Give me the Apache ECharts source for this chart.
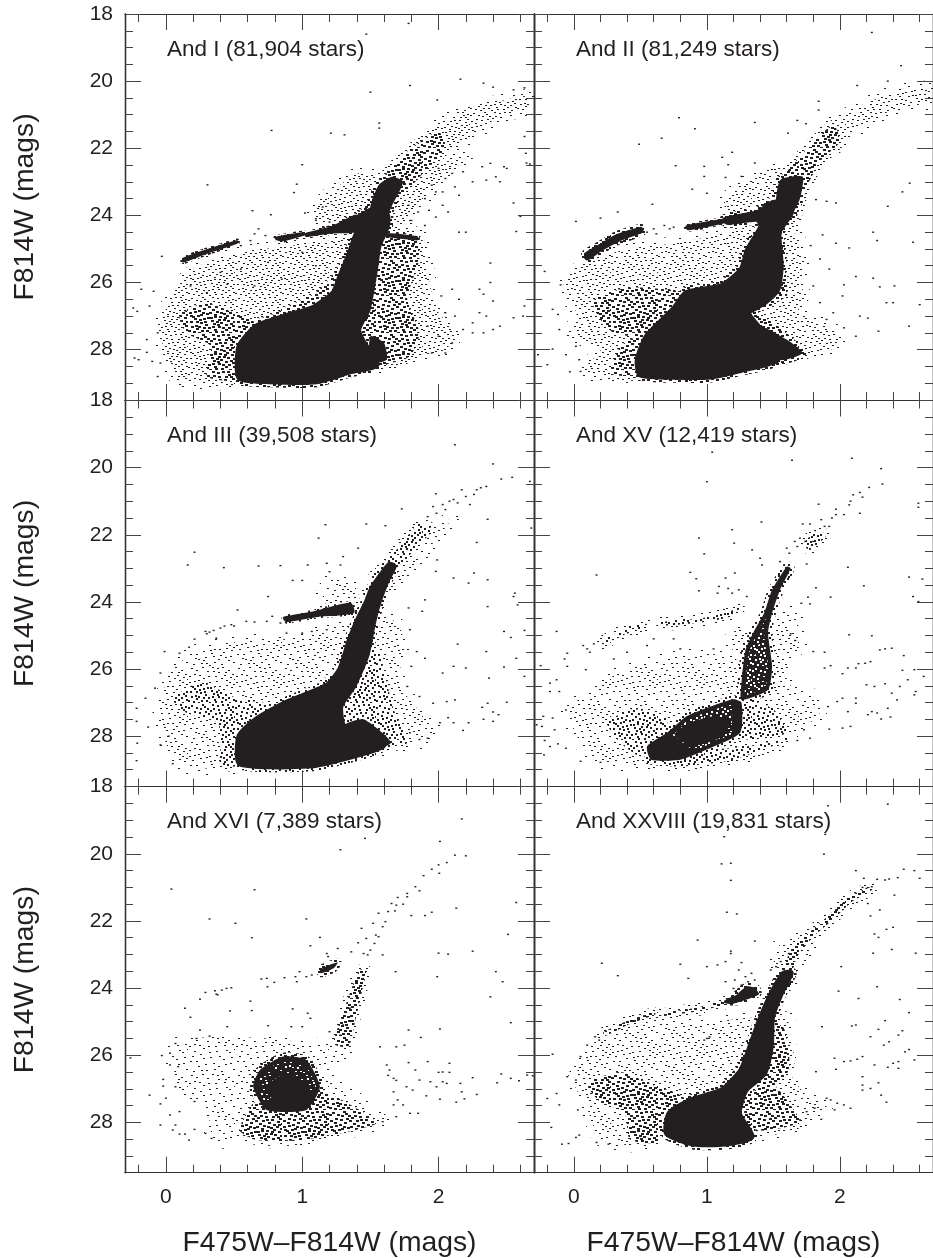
<!DOCTYPE html>
<html><head><meta charset="utf-8">
<style>html,body{margin:0;padding:0;background:#fff;overflow:hidden}#c{width:933px;height:1258px}</style>
<script src="https://cdn.jsdelivr.net/npm/echarts@6/dist/echarts.min.js"></script>
</head><body><div id="c"></div>
<script>
const panelNames=['And I (81,904 stars)','And II (81,249 stars)','And III (39,508 stars)','And XV (12,419 stars)','And XVI (7,389 stars)','And XXVIII (19,831 stars)'];
const xMajorTicks=[0,1,2];
const xMinorTicks=[-0.2,0.2,0.4,0.6,0.8,1.2,1.4,1.6,1.8,2.2,2.4,2.6];
const yMajorTicks=[18,20,22,24,26,28];
const yMinorTicks=[18.5,19,19.5,20.5,21,21.5,22.5,23,23.5,24.5,25,25.5,26.5,27,27.5,28.5,29];
const xTitle='F475W\u2013F814W (mags)';
const yTitle='F814W (mags)';

// Density regions: outlines in colour,magnitude pairs.
const andILight=[[-.04,27.5,.05,26.3,.25,25.5,.57,25.1,.885,24.92,1.23,24.73,1.37,24.6,1.33,25.5,1.23,26.2,1.03,26.7,.66,27.3,.54,28.9,.08,28.85],[1.6,24.4,1.86,24.6,1.9,25.2,1.95,26.3,2,26.9,2.13,27.5,2.05,28,1.7,28.4,1.55,28.45],[1.08,23.93,1.23,23.24,1.42,22.74,1.545,22.84,1.52,23.93,1.23,24.33],[1.66,23.7,1.85,22.8,2.05,22.4,2.2,22.3,2,23,1.85,23.7,1.72,24.3],[2,21.3,2.2,20.85,2.45,20.6,2.65,20.45,2.65,20.8,2.45,21.05,2.2,21.75,2.05,22.1]];
const andIMedium=[[.1,27,.28,26.6,.5,26.9,.665,27.25,.54,27.9,.54,28.9,.3,28.8,.33,27.9,.15,27.5],[.66,27.3,.9,26.7,1.08,26.35,1.2,25.9,1.3,25.3,1.38,24.6,1.42,25,1.3,26.3,1.08,26.8,.85,27.1],[1.545,25.5,1.62,24.53,1.84,24.73,1.86,25.3,1.77,26.5,1.86,27.5,1.79,28.2,1.6,28.4,1.45,27.5,1.5,26.8],[1.5,23.55,1.62,22.74,1.8,22,2,21.5,2.05,22,1.85,22.9,1.67,23.73,1.62,24,1.5,23.9]];
const andIDense=[[1.5,23.8,1.56,23.1,1.66,22.85,1.74,23,1.66,23.7,1.62,24],[1.5,27.6,1.6,27.8,1.62,28.3,1.5,28.4]];
const andISolid=[[.54,28.84,.76,28.94,1.105,28.94,1.35,28.65,1.545,28.45,1.45,27.8,1.41,27.4,1.48,26.8,1.53,25.7,1.56,24.9,1.62,24.33,1.62,23.98,1.52,23.83,1.42,24.1,1.45,24.4,1.4,24.55,1.35,25.12,1.28,25.82,1.23,26.31,1.08,26.76,.885,27,.665,27.31,.54,27.9],[1.03,24.56,1.22,24.36,1.4,24.02,1.42,24.44,1.2,24.5,1.03,24.6],[.13,25.3,.3,25.05,.52,24.78,.52,24.8,.3,25.1,.13,25.36],[.81,24.68,1.01,24.54,1.01,24.56,.85,24.73],[1.62,24.57,1.84,24.66,1.84,24.7,1.62,24.6]];
const andIStars=[1.47,18.6,1.78,18.28,2.16,19.94,1.79,20.13,1.5,20.33,2.33,20.06,2.4,20.18,1.99,20.56,2.55,20.26,2.63,20.2,.775,21.47,1.21,21.55,1.31,21.6,1.565,21.25,1.565,21.4,1,22.49,.305,23.09,.96,23.07,.94,23.32,.635,23.86,.77,23.98,1.02,23.93,2.645,22.44,2.67,22.47,2,22.6,2.05,22.9,2.1,22.75,2.18,22.7,2.25,23,2.32,22.55,2.38,22.45,2.35,22.95,2.45,23,2.48,22.55,2.5,22.6,2.42,22.85,1.95,23.1,1.98,23.3,2.03,23.3,2.12,23.15,2.15,23.4,1.9,23.5,1.93,23.85,2.03,23.7,2.07,23.9,1.85,23.9,1.78,23.7,1.8,24.15,1.9,24.3,1.98,24.05,2.15,24.5,2.33,26.35,2.4,26.55,2.38,26,2.3,26.2,2.15,26.5,2.12,27,2.3,26.9,2.35,27,2.25,27.2,2.05,26.9,2.18,27.4,2.25,27.5,2.33,27.5,2.4,27.4,2.45,27.3,2.55,27.05,2.62,27,2.63,26.7,2.38,25.42,2.57,24.48,2.6,24.03,2.55,23.63,2.63,21.65,2.64,22.15,2.2,24.5,-.24,26.76,-.21,26.86,-.18,26.2,-.09,26.26,-.12,26.7,-.23,28.25,-.2,28.3,-.14,27.7,-.14,28.08,-.1,28.35,-.06,28.8,-.06,27.5,-.03,25.22,-.04,28.4,2.05,28.1,2.1,27.8,1.95,28.1,2,27.6,1.92,27.3,2.02,26.4,2.1,26.2,.68,24.4,.65,24.55,.73,24.6,.55,24.9,.62,24.75,1.2,24.2,1.15,23.75,1.1,24.1,.45,26.05,.3,26.3,.18,26.1,.4,25.7,.55,25.6,.75,25.4,1,25.1,1.1,25.5,.85,25.9,.65,26.1];
const andIILight=[[-.08,26.1,.09,25.42,.4,25,.77,24.83,1.14,24.53,1.36,24.33,1.29,25.12,1.24,25.72,.85,26.31,.5,27.6,.48,28.74,.06,28.65,.2,28,-.01,27.5,.02,26.9],[1.55,24.5,1.68,24.6,1.72,25.6,1.72,26.3,1.7,26.9,1.95,27.4,2,27.9,1.8,28.1,1.55,28.3,1.5,27.4,1.35,26.9],[1.13,23.6,1.4,22.7,1.55,22.6,1.55,23.9,1.2,24.15],[1.9,21.4,2.05,21,2.35,20.4,2.65,20.2,2.7,20.6,2.4,20.85,2.1,21.5,1.95,22]];
const andIIMedium=[[.14,26.55,.41,26.15,.85,26.31,.75,26.8,.5,27.6,.3,27.5,.2,27.1],[.28,28.7,.35,27.9,.5,27.6,.48,28.74],[1.31,26.9,1.5,27.2,1.75,28.1,1.53,28.3,1.45,27.8],[1.5,23.3,1.62,22.6,1.78,21.9,1.95,21.3,2,21.8,1.85,22.4,1.72,23.4,1.66,24.2,1.55,24.3,1.5,23.8],[1.26,25.5,1.35,24.9,1.55,25,1.6,26,1.6,26.4,1.35,26.9,1.1,26.5]];
const andIIDense=[[1.52,23.9,1.55,22.95,1.72,22.85,1.7,23.5,1.63,24],[1.4,27.3,1.6,27.7,1.72,28.1,1.55,28.3]];
const andIISolid=[[.5,28.74,.77,28.81,1.04,28.79,1.26,28.6,1.53,28.3,1.48,27.8,1.38,27.3,1.31,26.9,1.43,26.6,1.53,26.2,1.555,25.5,1.54,24.5,1.63,23.93,1.63,23.63,1.5,23.63,1.38,23.93,1.14,24.13,1.16,24.2,1.38,24.1,1.41,24.33,1.31,25.02,1.26,25.62,1.11,26.11,.846,26.31,.75,26.8,.55,27.6,.48,28.3],[.1,25.17,.2,24.94,.33,24.64,.5,24.43,.5,24.45,.33,24.7,.2,24.98,.1,25.25],[.85,24.34,1.14,24.14,1.14,24.18,.86,24.4]];
const andIIStars=[2.24,18.55,2.46,19.54,2.36,20,2.13,20.13,1.84,20.6,1.84,20.86,.79,21.09,.91,21.42,1.36,21.23,.66,21.7,.49,21.88,1.68,21.17,1.745,21.27,1.61,21.55,1.19,22.12,1.115,22.27,.765,22.52,.98,22.54,1.16,22.49,1.36,22.44,.98,22.84,1.14,22.87,1.26,22.84,.89,23.22,1,23.34,.59,23.67,.33,23.9,.2,24.08,.015,24.18,2.525,23.04,2.47,23.3,2.36,23.73,1.97,23.63,1.9,23.58,1.82,23.53,2.25,24.5,2.28,24.75,2.55,24.8,1.97,24.83,2.07,24.97,1.87,24.58,2.12,25.82,2.25,25.87,2.41,26.1,2.3,26.13,2.03,26.07,2.02,26.4,2.35,26.6,2.4,26.6,2.6,26.66,2.21,27.06,2.15,27,2.29,27.45,2.52,27.3,2.12,27.6,2.03,27.35,-.22,25.67,-.16,26.8,-.12,26.95,-.11,27.4,-.16,27.98,-.27,28.15,-.2,28.45,-.06,28.15,-.03,28.66,.05,28.65,-.1,26.07,.015,27.9,.04,28.3,.68,24.3,.72,24.4,.75,24.35,.55,24.5,.6,24.4,.62,24.55,1.78,24.9,1.85,25.3,1.92,25.6,1.8,26.1,1.85,26.6,1.95,26.9,1.9,27.1];
const andIIILight=[[-.05,27.6,.02,26.2,.2,25.5,.5,25.2,.9,25.1,1.2,24.85,1.4,24.6,1.25,26,1.05,26.5,.7,27.3,.55,28.85,.1,28.85],[1.47,25.3,1.56,24.2,1.72,24.8,1.75,25.5,1.7,26.4,1.85,27.2,1.98,27.9,1.8,28.3,1.6,28.4,1.4,28],[1.15,23.8,1.22,23.3,1.38,23.5,1.42,24,1.3,24.1,1.2,24.2],[1.6,23.8,1.72,23,1.95,21.9,2.1,21.5,1.95,22.3,1.75,23.3]];
const andIIIMedium=[[.05,26.9,.25,26.4,.54,26.9,.79,27.1,.54,28,.42,28.7,.38,27.6,.15,27.3],[1.47,25.6,1.55,25.4,1.62,26.4,1.67,27.2,1.77,28.2,1.59,28.3,1.4,28.1,1.28,27.1],[1.52,23.24,1.67,22.55,1.79,21.95,1.86,21.65,1.96,21.85,1.84,22.35,1.72,22.95,1.59,23.64],[1.18,26.5,1.3,25.7,1.4,25.6,1.38,26.6,1.1,27],[.4,28.85,.42,28.1,.55,27.9,.55,28.85]];
const andIIIDense=[[1.3,27.7,1.45,27.5,1.65,28.2,1.4,28.56]];
const andIIISolid=[[.54,28.8,.79,28.9,1.105,28.85,1.4,28.56,1.59,28.3,1.45,28.15,1.3,27.7,1.28,27.1,1.375,26.5,1.47,25.6,1.52,24.6,1.56,24,1.62,23.35,1.67,22.95,1.64,22.9,1.52,23.55,1.47,24.04,1.41,24.53,1.35,25.13,1.28,26,1.18,26.5,.885,27,.665,27.5,.54,28],[.87,24.48,1.08,24.33,1.35,24.06,1.37,24.3,1.1,24.41,.885,24.56]];
const andIIIStars=[2.12,19.32,2.4,19.89,2.54,20.29,2.46,20.34,2.67,20.41,.21,22.52,.16,22.9,.425,22.98,.68,22.93,.84,22.92,1.04,22.9,1.17,21.7,1.12,22.1,1.47,21.68,1.61,21.73,1.73,21.23,1.3,22.65,1.41,22.4,1.28,22.9,1.18,22.85,1.2,23.1,.93,23.36,1,23.36,.75,23.84,.525,24.24,2.35,20.56,2.28,20.66,2.31,20.6,2.2,20.86,2.17,20.66,2.08,21,2.03,21.1,2.11,20.95,1.96,21.16,1.92,21.46,1.985,21.36,2.05,21.25,2.14,21.05,2.23,21.1,1.98,20.78,2.26,20.8,2.56,23.74,2.55,23.84,2.58,24.09,2.63,24.85,2.48,24.88,2.53,25.06,2.57,25.68,2.48,25.94,2.63,26.22,2.37,26.27,2.35,25.48,2.14,25.26,2.2,25.97,2.11,25.92,2.03,26.12,2.5,26.99,2.36,27.02,2.32,27.14,2.4,27.28,2.44,27.36,2.4,27.56,2.33,27.5,2.22,27.6,2.18,27.83,2.11,27.6,2.12,26.92,2.01,27.6,2.07,27.45,1.92,28.06,1.86,28.1,1.79,27.9,2.06,26.97,1.96,27.02,1.86,26.82,1.77,26.52,1.8,25.92,1.9,25.68,1.84,25.48,1.88,24.28,1.9,23.94,1.78,24.18,1.79,24.83,2.36,24.14,2.36,23.34,2.26,23.14,2.22,23.44,2.11,23.29,1.98,23.09,1.99,22.75,2.28,22.23,2.36,21.54,2.68,21.8,-.215,28.73,-.21,28.21,-.13,27.73,-.215,27.56,-.215,27.17,-.15,26.87,-.08,26.57,-.04,26.12,-.01,25.48,-.04,28.26,.05,28.82,.02,28,.1,25.53,.17,25.35,.21,25.11,.29,24.88,.37,25.08,.4,24.78,.48,24.68,.59,24.58,.74,24.58,.78,24.43,.84,24.63,.885,24.93,1,24.93,1.07,24.88,1.18,24.83,.3,24.95,.32,24.9,.35,24.85,.43,24.72,.5,24.72,.65,24.6];
const andXVLight=[[-.05,27.3,.1,26.7,.3,26.2,.6,25.7,.9,25.6,1.2,25.6,1.26,26.4,1.05,27,.7,27.6,.55,28.8,.15,28.7],[1.5,25.7,1.65,25.6,1.6,26.4,1.8,26.8,1.85,27.3,1.65,28,1.45,28.4,1.2,28.7,1.2,27.5],[1.2,24.9,1.36,24.8,1.3,25.6,1.2,25.6],[1.45,24.8,1.65,24.3,1.7,25.3,1.55,25.7]];
const andXVMedium=[[.25,27.6,.45,27.2,.7,27.5,.68,28,.7,28.3,.5,28.6,.35,28.2],[.55,28.8,.7,27.9,.9,28.4,1.3,28.3,1.65,28.05,1.2,28.7,.8,28.9],[1.2,27.1,1.3,26.9,1.5,27.2,1.6,27.9,1.35,28.1,1.2,28],[.65,24.6,.94,24.5,1.16,24.31,1.24,24.16,1.25,24.2,1.16,24.46,.97,24.61,.67,24.71],[.2,25.2,.38,24.8,.55,24.65,.55,24.73,.39,24.96,.22,25.26],[1.72,22.3,1.82,21.9,1.9,22,1.78,22.45]];
const andXVDense=[[1.26,26.42,1.29,25.43,1.36,24.83,1.43,24.34,1.49,23.64,1.6,22.95,1.63,23,1.55,23.64,1.49,24.34,1.46,24.93,1.49,25.92,1.46,26.62,1.26,26.92],[.55,28.3,.7,27.9,.85,27.4,1.04,27.1,1.2,26.9,1.26,27,1.25,27.9,1,28.4,.8,28.7,.58,28.7]];
const andXVSolid=[[.78,27.95,.9,27.65,1.05,27.5,1.15,27.6,1.1,27.95,.9,28.2]];
const andXVStars=[1.04,19.54,1.64,19.78,2.09,19.72,2.31,20.03,2.32,20.49,1,20.42,2.59,21.06,2.59,21.18,2.22,20.59,2.15,20.74,2.17,20.88,2.1,20.81,2.07,21.11,2.08,21,2.15,21.36,1.84,21.09,1.97,21.24,1.94,21.5,1.97,21.4,2.03,21.4,1.86,21.55,1.885,21.75,1.92,21.75,1.775,21.68,1.72,21.68,1.41,21.62,1.19,21.85,.94,22.1,1.205,22.25,.98,22.57,1.34,22.45,1.4,22.7,1.415,22.9,.17,23.2,.875,23.12,.92,23.31,1.21,23.14,.94,23.67,1.08,23.74,1.14,23.29,1.09,23.54,1.16,23.6,1.19,23.74,1.24,23.64,1.3,23.84,2.39,25.38,2.3,25.43,2.34,25.4,2.48,25.6,2.24,25.01,2.07,24.98,2.18,23.52,2.06,22.97,2.52,23.26,2.62,23.32,2.55,23.84,2.59,23.99,1.93,23.86,1.82,23.58,1.76,23.86,1.71,24.04,1.775,24.06,1.75,22.87,1.665,25.15,1.63,24.95,2.23,25.78,2.19,25.83,2.14,25.84,2.12,25.97,2.06,25.97,2.02,26.14,1.93,25.9,1.885,25.97,1.8,25.48,1.885,25.5,2.56,26.02,2.63,26.22,2.47,26.04,2.51,26.32,2.45,26.52,2.43,26.92,2.39,26.72,2.57,26.67,2.56,26.77,2.34,26.44,2.2,26.47,2.26,26.52,2.12,26.87,2.02,26.87,1.98,26.97,1.91,27.12,2.06,27.27,2.12,27.02,2.24,27.27,2.28,27.31,2.36,27.17,2.38,27.43,2.31,27.49,2.21,27.36,2.08,27.71,2.02,27.76,1.92,27.79,1.775,28.06,1.68,28.13,1.73,27.81,-.13,24.88,-.25,25.9,-.18,26.42,-.13,26.32,-.18,26.67,-.11,26.67,-.06,27.22,-.23,27.41,-.28,27.66,-.24,27.71,-.16,27.46,-.145,27.81,-.22,28.13,-.18,28.31,-.225,28.56,-.12,28.23,-.06,28.36,.05,28.75,.2,28.78,-.07,25.7,-.05,25.53,-.05,25.92,.09,26.02,.07,25.3,.1,25.4,.12,25.5,.15,25.25,1.55,22.8,1.6,22.4,1.62,22.55,1.66,22.2,1.7,22.1,1.68,22.35,1.74,22.2,1.8,22.2,.75,25.1,.6,25.1,.8,25.4,1.05,25.4,.4,25.5,.3,25.7,.55,25.3];
const andXVIMedium=[[.54,28.23,.665,28.53,.98,28.53,1.28,28.33,1.545,28.03,1.42,27.63,1.13,27.04,.9,27.3,.65,27.4],[1.23,25.65,1.3,24.75,1.34,24.26,1.42,23.46,1.47,23.46,1.435,24.16,1.39,24.95,1.34,25.75]];
const andXVILight=[[.05,25.75,.32,25.45,.885,25.55,1.08,25.75,1.23,25.75,1.37,25.95,1.2,26.6,1.4,27.3,1.62,27.8,1.55,28.03,1.28,28.33,.98,28.55,.55,28.55,.35,28.53,.3,27.6,.1,27],[.65,26.2,.86,25.8,1.25,25.7,1.25,26.2,1.13,26.5]];
const andXVIDense=[[.64,26.94,.69,26.44,.86,26.04,1.03,26.14,1.13,26.94,1.03,27.63,.74,27.63],[1.13,23.46,1.2,23.31,1.26,23.24,1.23,23.41,1.14,23.56]];
const andXVISolid=[[.75,27,.85,26.7,.98,26.8,1.02,27.1,.95,27.35,.82,27.3]];
const andXVIStars=[2.17,18.96,1.46,19.54,2.01,19.63,1.28,19.88,2.2,20.06,2.12,20.04,2.06,20.26,2,20.33,2.005,20.58,1.95,20.46,1.89,20.65,1.83,20.98,1.86,21.1,1.77,21.18,1.77,21.28,1.7,21.3,1.655,21.48,1.69,21.53,1.74,21.5,1.68,21.7,1.63,21.72,1.56,21.77,2.13,21.62,1.95,21.74,1.9,21.84,1.8,21.84,1.61,22.02,1.59,22.17,1.52,22.07,1.56,22.47,1.54,22.42,1.435,22.22,1.47,22.52,1.53,22.67,1.5,22.87,1.41,22.65,1.45,22.97,1.48,23.01,1.59,23.01,1.36,22.92,.04,21.05,.65,21.07,.32,21.94,.51,22.07,1.03,21.94,.63,22.5,1.13,22.49,1.06,22.74,1.26,22.82,1.18,22.97,1.19,23.06,2,22.96,2.07,22.99,2.25,22.9,2.51,22.4,2.57,21.45,1.99,23.66,1.685,23.51,2.42,23.51,2.47,23.81,2.38,24.26,2.53,25.03,2.01,25.22,1.78,25.25,1.87,25.47,1.75,25.7,1.69,25.75,1.57,25.75,.7,23.73,.74,23.71,.795,23.83,.87,23.69,.95,23.66,.98,23.51,1.03,23.66,1.07,23.61,.745,23.96,.96,23.81,.48,23.99,.445,24.01,.41,24.06,.36,24.08,.29,24.13,.37,24.18,.38,24.2,.25,24.33,.62,24.39,.14,24.6,.18,24.87,.47,24.68,.63,24.67,.93,24.62,1.04,24.75,1.06,24.9,.75,25.12,.45,25.15,.92,25.15,1,25.15,.25,25.25,.225,25.5,.32,25.43,1.62,26.29,1.64,26.44,1.63,26.6,1.67,26.69,1.69,26.75,1.765,26.94,1.67,27.09,1.7,27.33,1.67,27.48,1.74,27.48,1.79,27.73,1.69,27.83,1.59,27.98,1.85,27.73,1.78,26.22,1.92,26.19,1.83,26.44,2,26.51,2.03,26.5,2.08,26.24,2.08,26.51,2.06,26.84,2.03,26.79,1.86,26.74,1.94,26.79,1.985,26.94,2.16,26.84,2.17,27.09,2.25,26.67,2.28,27.17,2.19,27.3,2.13,27.4,2.01,27.31,1.91,27.21,1.81,27.04,2.43,26.82,2.46,26.56,2.53,26.69,2.59,26.76,2.69,26.61,2.65,26.59,-.26,26.08,-.12,27.19,-.04,27.45,-.04,28.08,0,27.28,-.03,26.01,-.02,26.72,-.02,26.92,.07,26.94,.03,26.29,.09,26.34,.07,25.65,.03,25.94,.1,27.68,.05,28.23,.1,28.35,.17,28.53,.07,28.08,.03,27.78,.21,27.38,.21,28.21,.14,28.35,.29,28.33,.335,28.48,1.3,25.1,1.35,24.6,1.4,24.3,1.28,25.4,1.2,25.3];
const andXXVIIILight=[[0,26.8,.1,25.9,.2,25.45,.6,25.05,1,25.05,1.35,24.9,1.28,25.6,1.2,26.4,1,27,.72,27.5,.55,28.65,.2,28.5,.1,27.6],[1.48,24.9,1.6,24.7,1.62,25.8,1.62,26.5,1.75,27.2,1.9,27.5,1.8,27.95,1.5,28.3,1.33,28.43,1.29,27],[1.5,23.4,1.55,22.7,1.72,22.5,1.8,22.8,1.7,23.4,1.6,23.9]];
const andXXVIIIMedium=[[.1,26.85,.35,26.5,.6,26.9,.8,27.2,.7,27.8,.62,28.6,.42,28.5,.38,27.7,.2,27.4],[1.58,23.46,1.63,22.87,1.775,22.32,1.92,21.82,2.09,21.23,2.24,20.98,2.24,21.08,2.09,21.43,1.945,21.97,1.8,22.47,1.68,23.06,1.63,23.56],[.22,25.32,.405,24.97,.6,24.72,.615,24.78,.415,25.08,.235,25.43],[.65,24.77,.94,24.57,1.14,24.38,1.165,24.45,.94,24.68,.67,24.83],[1.3,27.2,1.5,26.9,1.65,27.6,1.7,28,1.45,28.25,1.3,28.1],[1.2,26.6,1.3,25.8,1.4,25.5,1.4,26.6,1.2,27],[1.48,25,1.58,25.2,1.62,26.4,1.5,27,1.4,27]];
const andXXVIIIDense=[[1.22,24.22,1.3,23.95,1.37,24,1.38,24.16,1.22,24.4]];
const andXXVIIISolid=[[.7,28.33,.895,28.63,1.14,28.63,1.335,28.43,1.24,27.73,1.29,27.04,1.43,26.54,1.48,25.75,1.49,24.85,1.555,24.16,1.63,23.56,1.58,23.56,1.49,24.14,1.41,24.85,1.335,25.65,1.26,26.44,1.115,27.04,.895,27.33,.72,27.73],[1.14,24.4,1.335,24.09,1.38,24.17,1.19,24.43]];
const andXXVIIIStars=[1.91,18.57,2.36,18.52,1.89,19.42,1.13,19.49,1.88,20.01,1.11,20.3,1.18,20.28,1.18,20.79,2.12,20.5,2.48,20.46,2.56,20.5,2.6,20.73,2.435,20.71,2.37,20.75,2.34,20.78,2.28,20.76,2.18,20.73,2.24,20.98,2.2,21.03,2.17,21,2.41,21.23,2.21,21.48,2.3,21.67,2.23,21.85,2.35,22.25,2.4,22.19,2.26,22.39,2.29,22.49,2.39,22.85,2.25,22.96,2.57,22.96,2.01,23.36,2.28,23.96,1.99,24.09,2.14,24.31,2.45,24.34,2.52,24.73,2.12,25.1,2.34,24.97,2.09,25.13,1.865,25.15,2.29,25.23,2.23,25.45,2.47,25.27,2.44,25.4,2.37,25.6,2.33,25.7,2.49,25.9,2.56,26.14,2.52,25.83,2.44,26.19,2.4,26.24,2.44,26.39,2.36,26.36,2.26,26.29,2.17,26.04,2.13,26.12,2.08,26.17,2.03,26.19,1.96,26.09,1.97,26.42,1.82,26.49,2.17,26.64,2.17,26.89,2.17,27.04,2.29,26.82,2.23,26.99,2.31,27.19,2.35,27.4,2.08,27.58,2.03,27.48,1.98,27.43,1.96,27.63,1.93,27.33,1.9,27.28,1.86,27.91,1.81,27.58,1.75,27.68,1.7,27.93,.21,23.26,.33,23.63,.8,23.29,.93,22.57,1.18,22.9,1.18,22.97,1.15,21.74,1.225,21.79,1.36,22.6,1.14,23.21,1.08,23.31,1,23.36,.86,23.71,1.26,23.24,1.24,23.46,1.14,23.81,1.21,23.76,1.2,24.01,1.26,23.91,1.335,23.56,1.29,23.66,1.36,23.76,1.31,23.81,1.48,23.46,1.555,23.21,1.52,23.36,1.615,22.97,-.16,25.97,-.05,26.64,-.13,27.14,-.2,27.29,-.11,27.48,-.17,28.15,-.09,28.65,-.04,28.63,.04,28.38,.015,28.45,.17,28.6,.26,28.65,.05,26.04,.1,25.7,.16,25.45,.19,25.55,.015,26.74,.03,27.63,.98,25.55,1,25.5,1.02,25.45];

const xMin=-0.3,xMax=2.7,yMin=18,yMax=29.5;
const inkColor='#231f20';
const regions=[
 {light:andILight,medium:andIMedium,dense:andIDense,solid:andISolid,stars:andIStars},
 {light:andIILight,medium:andIIMedium,dense:andIIDense,solid:andIISolid,stars:andIIStars},
 {light:andIIILight,medium:andIIIMedium,dense:andIIIDense,solid:andIIISolid,stars:andIIIStars},
 {light:andXVLight,medium:andXVMedium,dense:andXVDense,solid:andXVSolid,stars:andXVStars},
 {light:andXVILight,medium:andXVIMedium,dense:andXVIDense,solid:andXVISolid,stars:andXVIStars},
 {light:andXXVIIILight,medium:andXXVIIIMedium,dense:andXXVIIIDense,solid:andXXVIIISolid,stars:andXXVIIIStars}
];
// stipple tile offsets: texture standing in for unresolved star density, not data
const tileDots=[[3,2],[19,5],[34,1],[44,8],[11,9],[27,10],[38,14],[6,15],[21,16],[31,20],[15,22],[43,21],[2,25],[25,27],[37,28],[10,30],[18,34],[33,35],[45,33],[5,35],[8,4],[24,1],[40,4],[15,12],[30,6],[1,10],[36,9],[22,21],[12,18],[41,16],[28,15],[4,20],[17,28],[35,23],[8,25],[26,33],[42,27],[13,34],[30,30],[46,13],[14,1],[29,2],[37,6],[6,8],[20,10],[25,5],[42,11],[33,12],[10,14],[18,17],[26,20],[38,19],[1,16],[45,18],[23,24],[7,29],[32,26],[40,31],[15,31],[21,36],[0,4],[12,5],[17,8],[31,9],[44,3],[9,19],[35,17],[28,25],[3,30],[39,24],[24,30],[45,25],[12,26],[19,21],[34,31],[6,22],[41,36],[27,35],[0,34],[16,3],[22,7],[39,1],[5,12],[24,13],[32,16],[14,16],[43,14],[2,19],[16,25],[37,33],[10,36],[29,28],[20,31],[36,21],[8,32],[44,29],[26,18],[11,23],[30,23],[42,6]];
function tile(n,w,h,holes){
 const c=document.createElement('canvas');c.width=47;c.height=37;
 const g=c.getContext('2d');
 g.fillStyle=inkColor;
 if(holes){g.fillRect(0,0,47,37);tileDots.slice(0,n).forEach(d=>g.clearRect(d[0],d[1],w,h));}
 else tileDots.slice(0,n).forEach(d=>g.fillRect(d[0],d[1],w,h));
 return {image:c,repeat:'repeat'};
}
const lightCount=[100,85,60,55,45,60];
const mediumWidth=[3,3,2,2,3,3];
const denseHoles=[70,70,70,100,70,70];
const panelFills=panelNames.map((_,g)=>({
 faint:tile(Math.round(lightCount[g]/3),2,1),
 light:tile(lightCount[g],2,1),
 medium:tile(100,mediumWidth[g],2),
 dense:tile(denseHoles[g],2,2,true)
}));

function polySeries(g,key){
 const polys=regions[g][key],fills=panelFills[g];
 return {type:'custom',xAxisIndex:g*4,yAxisIndex:g*4,silent:true,clip:true,animation:false,
  data:polys.map(p=>[p[0],p[1]]),encode:{x:0,y:1},
  renderItem:(params,api)=>{
   const f=polys[params.dataIndex],pts=[];
   for(let i=0;i<f.length;i+=2)pts.push(api.coord([f[i],f[i+1]]));
   const sh={points:pts,smooth:0.2},kids=[];
   const rim=(pat,w)=>kids.push({type:'polygon',shape:sh,style:{fill:'none',stroke:pat,lineWidth:w,lineJoin:'round'}});
   const strip=f.length<=12;
   if(key==='solid'){
    if(strip){rim(fills.medium,6);rim(fills.dense,3);}else{rim(fills.medium,12);rim(fills.dense,6);}
    kids.push({type:'polygon',shape:sh,style:{fill:inkColor,stroke:inkColor,lineWidth:1}});
   }
   else if(key==='dense'){rim(fills.medium,8);kids.push({type:'polygon',shape:sh,style:{fill:fills.dense}});}
   else if(key==='medium'){rim(fills.light,10);kids.push({type:'polygon',shape:sh,style:{fill:fills.medium}});}
   else {rim(fills.faint,14);kids.push({type:'polygon',shape:sh,style:{fill:fills.light}});}
   return {type:'group',children:kids};
  }};
}
function starSeries(g){
 const s=regions[g].stars,d=[];
 for(let i=0;i<s.length;i+=2)d.push([s[i],s[i+1]]);
 return {type:'scatter',xAxisIndex:g*4,yAxisIndex:g*4,data:d,symbol:'rect',symbolSize:[2,1.4],silent:true,clip:true,animation:false,
  itemStyle:{color:inkColor,opacity:1}};
}
const grids=[],xAxes=[],yAxes=[],series=[],titles=[];
const cols=[125,534],tops=[14,400.5,786.7];
const tickStyle={color:'#444',width:1};
function xA(g,pos,vals,len,lab,name){
 return {type:'value',gridIndex:g,min:xMin,max:xMax,position:pos,splitLine:{show:false},
  axisLine:{show:true,onZero:false,lineStyle:{color:'#333',width:1}},
  axisTick:{show:true,inside:true,length:len,customValues:vals,lineStyle:tickStyle},
  axisLabel:lab?{show:true,customValues:xMajorTicks,margin:14,fontSize:21,color:inkColor,fontFamily:'Liberation Sans',formatter:v=>String(v)}:{show:false},
  name:name||'',nameLocation:'middle',nameGap:56,nameTextStyle:{fontSize:28.3,color:inkColor,fontFamily:'Liberation Sans'}};
}
function yA(g,pos,vals,len,lab,name){
 return {type:'value',gridIndex:g,min:yMin,max:yMax,inverse:true,position:pos,splitLine:{show:false},
  axisLine:{show:true,onZero:false,lineStyle:{color:'#333',width:1.3}},
  axisTick:{show:true,inside:true,length:len,customValues:vals,lineStyle:tickStyle},
  axisLabel:lab?{show:true,customValues:yMajorTicks,margin:12,fontSize:21,color:inkColor,fontFamily:'Liberation Sans',formatter:v=>String(v)}:{show:false},
  name:name||'',nameLocation:'middle',nameGap:86,nameRotate:90,nameTextStyle:{fontSize:28.3,color:inkColor,fontFamily:'Liberation Sans'}};
}
panelNames.forEach((nm,g)=>{
 const c=g%2,r=Math.floor(g/2),bottom=r===2,left=c===0;
 grids.push({left:cols[c],top:tops[r],width:409,height:386});
 xAxes.push(xA(g,'bottom',xMajorTicks,16,bottom,bottom?xTitle:''),xA(g,'bottom',xMinorTicks,8),xA(g,'top',xMajorTicks,16),xA(g,'top',xMinorTicks,8));
 yAxes.push(yA(g,'left',yMajorTicks,16,left,left?yTitle:''),yA(g,'left',yMinorTicks,8),yA(g,'right',yMajorTicks,16),yA(g,'right',yMinorTicks,8));
 series.push(polySeries(g,'light'),polySeries(g,'medium'),polySeries(g,'dense'),polySeries(g,'solid'),starSeries(g));
 titles.push({text:nm,left:cols[c]+37,top:tops[r]+19,textStyle:{fontSize:22.5,fontWeight:'normal',color:inkColor,fontFamily:'Liberation Sans'}});
});
const chart=echarts.init(document.getElementById('c'),null,{renderer:'canvas',width:933,height:1258,devicePixelRatio:1});
chart.setOption({animation:false,backgroundColor:'#fff',title:titles,grid:grids,xAxis:xAxes,yAxis:yAxes,series:series});
</script></body></html>
